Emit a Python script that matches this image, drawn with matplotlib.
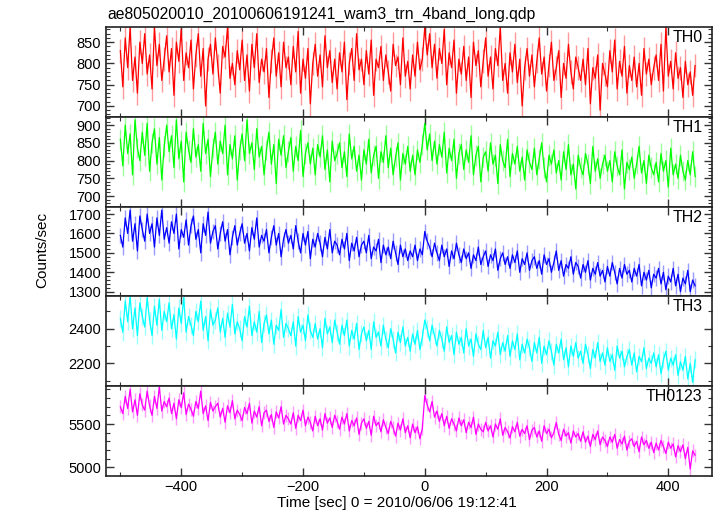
import numpy as np
import matplotlib
matplotlib.use("Agg")
import matplotlib.pyplot as plt
from matplotlib.ticker import MultipleLocator

plt.rcParams['font.family'] = ['Liberation Sans', 'DejaVu Sans']

title = "ae805020010_20100606191241_wam3_trn_4band_long.qdp"
xlabel = "Time [sec] 0 = 2010/06/06 19:12:41"
ylabel = "Counts/sec"
names = ["TH0", "TH1", "TH2", "TH3", "TH0123"]
colors = ["#ff0000", "#00ff00", "#0000ff", "#00ffff", "#ff00ff"]

# time bin centres (s), 4 s bins
t_start, t_step, n_bins = -500, 4, 237

th0 = [830, 745, 860, 790, 885, 760, 815, 730, 850, 800,
       870, 775, 820, 740, 885, 795, 845, 760, 810, 865,
       780, 835, 725, 850, 805, 880, 760, 825, 790, 855,
       740, 820, 870, 770, 835, 700, 810, 845, 775, 860,
       795, 730, 840, 815, 885, 765, 800, 750, 830, 785,
       855, 760, 820, 735, 845, 790, 870, 755, 810, 780,
       835, 720, 805, 860, 770, 825, 745, 850, 790, 815,
       750, 840, 780, 875, 730, 810, 765, 835, 705, 800,
       845, 770, 820, 745, 865, 790, 830, 755, 810, 740,
       825, 780, 850, 715, 800, 835, 760, 870, 785, 810,
       750, 830, 775, 855, 725, 810, 790, 840, 760, 820,
       780, 735, 845, 795, 815, 750, 860, 770, 805, 740,
       820, 770, 850, 785, 810, 885, 820, 870, 790, 845,
       765, 835, 800, 880, 750, 825, 790, 855, 730, 810,
       775, 840, 760, 815, 720, 850, 795, 830, 745, 805,
       860, 770, 815, 740, 835, 795, 885, 760, 800, 730,
       825, 780, 845, 755, 810, 700, 790, 835, 770, 820,
       745, 805, 860, 775, 815, 735, 795, 850, 760, 790,
       830, 720, 800, 765, 845, 780, 740, 815, 790, 760,
       810, 750, 835, 705, 790, 765, 820, 690, 800, 775,
       745, 830, 780, 855, 740, 805, 770, 840, 730, 795,
       760, 815, 745, 800, 725, 835, 775, 810, 750, 790,
       820, 760, 845, 735, 885, 770, 805, 740, 825, 765,
       790, 720, 805, 750, 780, 725, 795]
th1 = [860, 785, 900, 820, 875, 760, 915, 835, 800, 880,
       815, 905, 770, 850, 890, 790, 865, 745, 840, 900,
       825, 870, 780, 915, 805, 855, 740, 880, 830, 795,
       890, 810, 845, 770, 905, 820, 860, 755, 835, 880,
       790, 855, 820, 900, 760, 845, 805, 870, 745, 830,
       875, 800, 915, 820, 850, 775, 890, 810, 840, 760,
       830, 880, 790, 845, 735, 860, 815, 870, 780, 825,
       865, 770, 840, 800, 885, 755, 820, 850, 790, 835,
       760, 845, 810, 870, 775, 830, 740, 855, 800, 820,
       850, 780, 825, 755, 875, 805, 840, 770, 815, 745,
       830, 790, 860, 765, 815, 840, 750, 825, 795, 870,
       780, 835, 760, 810, 850, 745, 820, 790, 840, 770,
       815, 760, 830, 795, 845, 905, 830, 875, 800, 855,
       790, 845, 810, 880, 765, 835, 800, 860, 750, 820,
       845, 775, 830, 795, 870, 760, 815, 840, 740, 810,
       825, 770, 850, 790, 815, 735, 845, 800, 780, 860,
       755, 820, 790, 840, 770, 810, 745, 830, 795, 775,
       835, 760, 805, 850, 780, 740, 815, 790, 830, 765,
       800, 745, 825, 775, 845, 760, 790, 720, 815, 780,
       760, 820, 790, 735, 840, 770, 805, 750, 790, 815,
       770, 800, 740, 825, 785, 760, 830, 720, 795, 775,
       810, 750, 790, 840, 765, 800, 735, 815, 780, 760,
       795, 740, 820, 770, 800, 725, 835, 760, 790, 750,
       815, 770, 745, 800, 760, 825, 755]
th2 = [1590, 1530, 1680, 1600, 1720, 1560, 1650, 1510, 1690, 1620,
       1560, 1700, 1600, 1650, 1530, 1680, 1590, 1720, 1570, 1630,
       1550, 1660, 1600, 1700, 1520, 1620, 1580, 1670, 1540, 1640,
       1690, 1570, 1620, 1500, 1650, 1590, 1710, 1550, 1610, 1640,
       1520, 1600, 1660, 1560, 1620, 1490, 1580, 1640, 1540, 1600,
       1650, 1550, 1600, 1510, 1630, 1570, 1680, 1530, 1590, 1560,
       1620, 1500, 1580, 1640, 1540, 1600, 1480, 1570, 1620, 1550,
       1590, 1520, 1640, 1560, 1500, 1600, 1540, 1610, 1470, 1570,
       1530, 1600, 1550, 1480, 1580, 1520, 1620, 1500, 1560, 1540,
       1490, 1570, 1520, 1600, 1460, 1550, 1510, 1580, 1480, 1540,
       1560, 1500, 1590, 1470, 1530, 1510, 1570, 1450, 1540, 1490,
       1530, 1470, 1560, 1500, 1440, 1540, 1480, 1520, 1460, 1510,
       1480, 1540, 1460, 1520, 1490, 1610, 1560, 1530, 1480, 1550,
       1500, 1460, 1540, 1480, 1520, 1430, 1510, 1470, 1550, 1490,
       1450, 1520, 1470, 1500, 1420, 1490, 1460, 1530, 1440, 1480,
       1510, 1430, 1490, 1460, 1520, 1410, 1470, 1500, 1440, 1480,
       1420, 1490, 1450, 1510, 1400, 1470, 1440, 1500, 1410, 1460,
       1480, 1420, 1460, 1390, 1490, 1440, 1470, 1400, 1450, 1510,
       1410, 1460, 1380, 1440, 1420, 1480, 1390, 1450, 1430, 1370,
       1440, 1400, 1460, 1360, 1420, 1390, 1450, 1380, 1410, 1350,
       1430, 1380, 1450, 1400, 1340, 1420, 1370, 1440, 1390, 1410,
       1350, 1420, 1380, 1440, 1330, 1400, 1360, 1410, 1320, 1390,
       1370, 1420, 1340, 1400, 1310, 1380, 1350, 1420, 1330, 1390,
       1300, 1370, 1340, 1410, 1300, 1360, 1330]
th3 = [2460, 2380, 2560, 2440, 2589, 2400, 2520, 2360, 2550, 2470,
       2410, 2580, 2450, 2360, 2530, 2420, 2570, 2390, 2500, 2440,
       2550, 2400, 2480, 2340, 2520, 2430, 2580, 2380, 2470, 2420,
       2360, 2500, 2440, 2560, 2390, 2470, 2330, 2510, 2420, 2450,
       2520, 2380, 2460, 2350, 2490, 2410, 2540, 2370, 2440, 2400,
       2330, 2470, 2410, 2530, 2360, 2440, 2380, 2500, 2320, 2430,
       2480, 2370, 2450, 2310, 2420, 2390, 2510, 2350, 2430, 2400,
       2360, 2440, 2300, 2470, 2380, 2420, 2330, 2480, 2390, 2350,
       2430, 2340, 2400, 2290, 2460, 2370, 2410, 2320, 2450, 2380,
       2310, 2420, 2360, 2450, 2300, 2390, 2340, 2430, 2280, 2370,
       2410, 2330, 2390, 2280, 2440, 2350, 2380, 2300, 2420, 2340,
       2290, 2400, 2340, 2260, 2380, 2320, 2410, 2300, 2350, 2270,
       2370, 2310, 2390, 2280, 2350, 2450, 2400, 2330, 2420, 2360,
       2300, 2390, 2340, 2270, 2410, 2320, 2360, 2250, 2380, 2310,
       2350, 2260, 2400, 2300, 2340, 2240, 2370, 2310, 2280, 2390,
       2290, 2350, 2230, 2330, 2300, 2380, 2250, 2320, 2270, 2360,
       2240, 2330, 2280, 2370, 2220, 2310, 2260, 2340, 2290, 2210,
       2320, 2260, 2350, 2200, 2300, 2250, 2330, 2270, 2190, 2310,
       2260, 2340, 2220, 2290, 2180, 2300, 2240, 2320, 2230, 2270,
       2200, 2310, 2250, 2170, 2280, 2230, 2320, 2210, 2260, 2190,
       2290, 2210, 2250, 2160, 2300, 2230, 2270, 2180, 2240, 2280,
       2190, 2260, 2150, 2240, 2210, 2290, 2170, 2230, 2200, 2260,
       2180, 2250, 2140, 2220, 2270, 2160, 2230, 2190, 2250, 2130,
       2210, 2160, 2240, 2110, 2200, 2090, 2220]
th0123 = [5700, 5620, 5820, 5680, 5900, 5640, 5780, 5600, 5850, 5720,
          5660, 5880, 5710, 5600, 5820, 5680, 5930, 5650, 5760, 5700,
          5800, 5620, 5740, 5560, 5780, 5690, 5860, 5610, 5730, 5670,
          5590, 5760, 5680, 5880, 5620, 5710, 5540, 5750, 5650, 5700,
          5740, 5580, 5680, 5520, 5710, 5630, 5770, 5560, 5660, 5610,
          5540, 5690, 5620, 5740, 5510, 5650, 5580, 5700, 5480, 5630,
          5660, 5530, 5610, 5460, 5640, 5570, 5700, 5500, 5600, 5560,
          5500, 5630, 5450, 5600, 5540, 5660, 5480, 5580, 5520, 5420,
          5590, 5480, 5560, 5430, 5620, 5510, 5570, 5460, 5600, 5530,
          5440, 5580, 5500, 5620, 5420, 5540, 5480, 5570, 5380, 5510,
          5560, 5450, 5530, 5370, 5590, 5480, 5520, 5410, 5550, 5460,
          5390, 5530, 5460, 5360, 5510, 5430, 5560, 5400, 5480, 5340,
          5500, 5400, 5470, 5330, 5450, 5830, 5720, 5640, 5760, 5580,
          5650, 5530, 5620, 5480, 5590, 5450, 5560, 5500, 5420, 5570,
          5480, 5550, 5400, 5520, 5460, 5580, 5380, 5500, 5440, 5410,
          5520, 5420, 5480, 5350, 5500, 5440, 5560, 5370, 5460, 5410,
          5340, 5470, 5410, 5520, 5360, 5440, 5390, 5480, 5320, 5430,
          5460, 5350, 5420, 5300, 5480, 5390, 5440, 5340, 5400, 5520,
          5380, 5310, 5440, 5360, 5400, 5280, 5420, 5350, 5390, 5300,
          5410, 5290, 5360, 5240, 5380, 5320, 5420, 5260, 5350, 5310,
          5240, 5350, 5290, 5380, 5220, 5320, 5270, 5360, 5200, 5300,
          5330, 5240, 5300, 5180, 5350, 5260, 5310, 5220, 5290, 5170,
          5280, 5200, 5310, 5240, 5160, 5290, 5220, 5270, 5120, 5250,
          5180, 5260, 5100, 5230, 4980, 5190, 5140]
errors = [28, 29, 40, 49, 75]

series = [th0, th1, th2, th3, th0123]
ylims = [(674, 885), (670, 923), (1276, 1738), (2069, 2587), (4903, 5939)]
major = [50, 50, 100, 200, 500]
minor = [10, 10, 20, 100, 100]

t = t_start + t_step * np.arange(n_bins)

fig = plt.figure(figsize=(7.17, 5.16), dpi=100)
left, right, top, bottom = 106 / 717, 711.7 / 717, 1 - 27.3 / 516, 1 - 475.7 / 516
h = (top - bottom) / 5
axes = []
for i in range(5):
    ax = fig.add_axes([left, top - (i + 1) * h, right - left, h])
    axes.append(ax)
    y = np.array(series[i])
    ax.errorbar(t, y, yerr=errors[i], fmt='none', ecolor=colors[i],
                alpha=0.4, elinewidth=1.0, zorder=1)
    ax.plot(t, y, color=colors[i], lw=0.9, zorder=2)
    ax.set_xlim(-523.6, 471.3)
    ax.set_ylim(*ylims[i])
    ax.yaxis.set_major_locator(MultipleLocator(major[i]))
    ax.yaxis.set_minor_locator(MultipleLocator(minor[i]))
    ax.xaxis.set_major_locator(MultipleLocator(200))
    ax.xaxis.set_minor_locator(MultipleLocator(100))
    ax.tick_params(which='both', direction='in', top=True, right=True,
                   labelsize=10.5, color='#333333')
    ax.tick_params(which='major', length=6, width=1)
    ax.tick_params(which='minor', length=3, width=0.8)
    ax.tick_params(axis='x', pad=3)
    for s in ax.spines.values():
        s.set_linewidth(1.2)
        s.set_color('#222222')
    ax.text(0.985, 0.965, names[i], transform=ax.transAxes, ha='right',
            va='top', fontsize=11.5)
    if i < 4:
        ax.tick_params(labelbottom=False)

fig.text(397 / 717, 1 - 507 / 516, xlabel, ha='center', va='baseline',
         fontsize=11)
fig.text(42 / 717, 1 - 250 / 516, ylabel, rotation=90, ha='center',
         va='center', fontsize=11)
fig.text(107 / 717, 1 - 14 / 516, title, ha='left', va='center', fontsize=11.3)

fig.savefig("out.png", dpi=100)
